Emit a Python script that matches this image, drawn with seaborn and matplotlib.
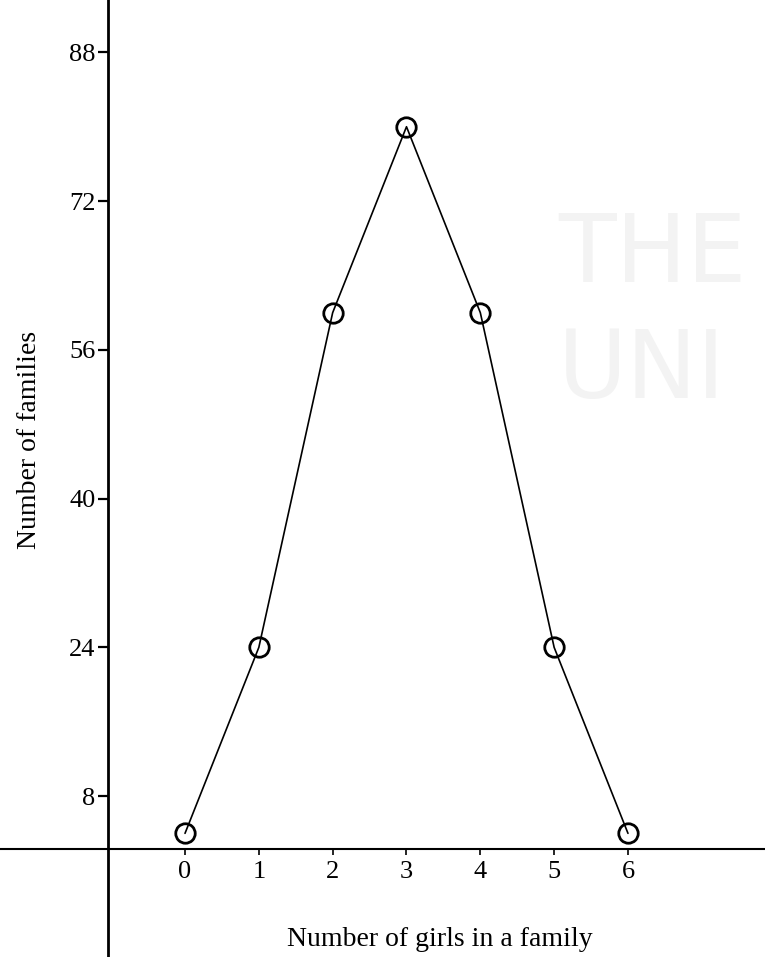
import numpy as np
import pandas as pd
import matplotlib
matplotlib.use("Agg")
import matplotlib.pyplot as plt
import seaborn as sns

girls = [0, 1, 2, 3, 4, 5, 6]
families = [4, 24, 60, 80, 60, 24, 4]
y_ticks = [8, 24, 40, 56, 72, 88]
x_ticks = [0, 1, 2, 3, 4, 5, 6]

df = pd.DataFrame({"girls": girls, "families": families})

sns.set_style("white")
plt.rcParams["font.family"] = ["Liberation Serif", "DejaVu Serif"]

W, H = 765, 957
fig = plt.figure(figsize=(W / 100, H / 100), dpi=100)
ax = fig.add_axes([0, 0, 1, 1])
ax.set_xlim(-2.506, 7.856)
ax.set_ylim(-9.30, 93.63)

# faint watermark from the scanned page
wm = "#f3f3f3"
ax.text(558 / W, 1 - 282 / H, "THE", transform=fig.transFigure, fontsize=68,
        color=wm, family="DejaVu Sans", va="baseline", ha="left", zorder=0)
ax.text(558 / W, 1 - 398 / H, "UNI", transform=fig.transFigure, fontsize=68,
        color=wm, family="DejaVu Sans", va="baseline", ha="left", zorder=0)

sns.lineplot(data=df, x="girls", y="families", ax=ax, color="black",
             linewidth=1.2, marker="o", markersize=14, markerfacecolor="none",
             markeredgecolor="black", markeredgewidth=2.0, zorder=3)

for s in ["top", "right"]:
    ax.spines[s].set_visible(False)
# the scanned axis line sits a little above the zero level
ax.spines["left"].set_position(("data", -1.043))
ax.spines["bottom"].set_position(("axes", 108 / H))
ax.spines["left"].set_linewidth(2.0)
ax.spines["bottom"].set_linewidth(1.5)
ax.spines["left"].set_color("black")
ax.spines["bottom"].set_color("black")

ax.set_yticks(y_ticks)
ax.set_xticks(x_ticks)
ax.tick_params(axis="y", left=True, direction="out", length=7, width=1.6,
               pad=2, labelsize=19, colors="black")
ax.tick_params(axis="x", bottom=True, direction="out", length=4, width=1.2,
               pad=5, labelsize=19, colors="black")
ax.set_xlabel("")
ax.set_ylabel("")

fig.text(440 / W, 1 - 940 / H, "Number of girls in a family", ha="center",
         va="center", fontsize=20, color="black")
fig.text(30 / W, 1 - 440 / H, "Number of families", ha="center",
         va="center", rotation=90, fontsize=20, color="black")

fig.savefig("out.png", dpi=100)
